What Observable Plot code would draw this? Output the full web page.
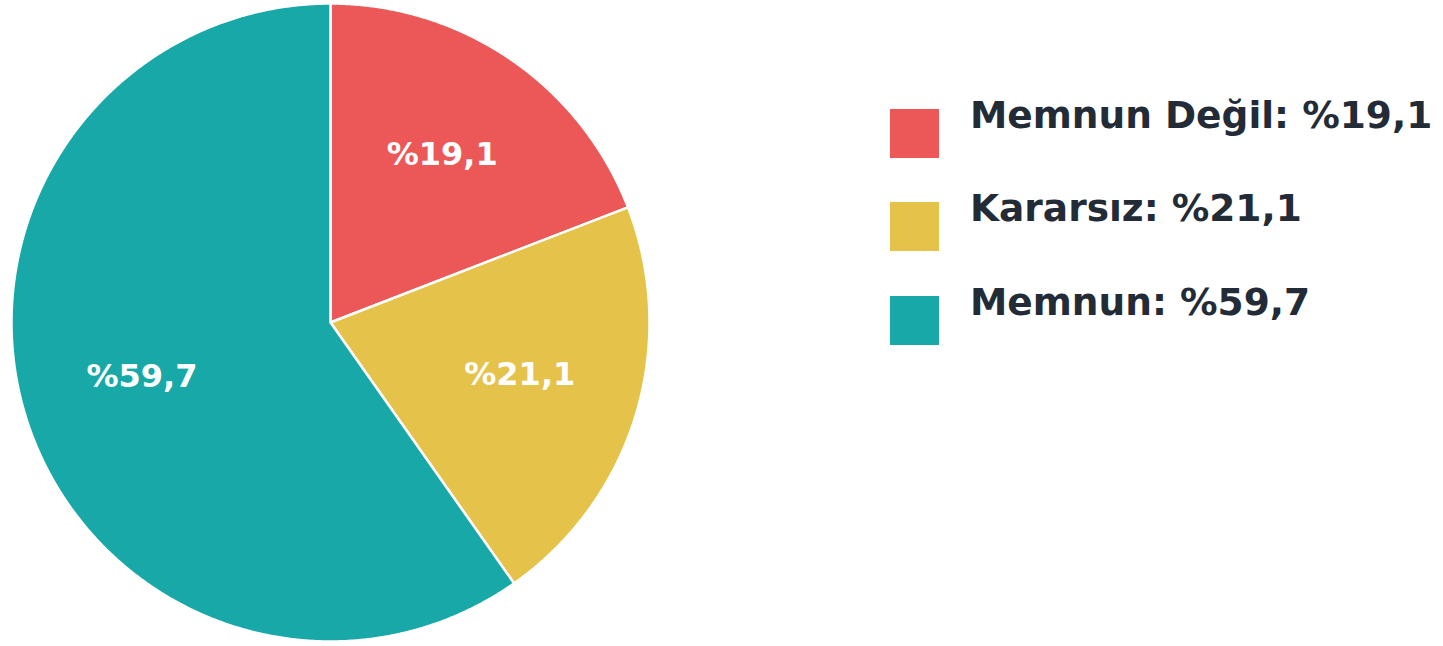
<!DOCTYPE html>
<html>
<head>
<meta charset="utf-8">
<script src="https://cdn.jsdelivr.net/npm/d3@7"></script>
<script src="https://cdn.jsdelivr.net/npm/@observablehq/plot@0.6"></script>
<style>
  html, body { margin: 0; padding: 0; background: #fff; }
  #wrap { position: relative; width: 1443px; height: 646px; font-family: "DejaVu Sans", sans-serif; }
  #legend { position: absolute; left: 0; top: 0; }
  .row { position: absolute; left: 890px; display: block; }
  .sw { position: absolute; left: 0; width: 49px; height: 49px; }
  .lbl { position: absolute; left: 80px; white-space: nowrap; font-size: 37.5px; font-weight: bold; color: #222b36; line-height: 43px; }
</style>
</head>
<body>
<div id="wrap"></div>
<script>
const categories = ["Memnun Değil", "Kararsız", "Memnun"];
const values = [19.1, 21.1, 59.7];
const labels = ["%19,1", "%21,1", "%59,7"];
const colors = ["#ec5858", "#e5c34b", "#18a8a8"];

const pie = d3.pie().sort(null).value(d => d.value).startAngle(0).endAngle(2 * Math.PI);
const rows = categories.map((c, i) => ({key: c, value: values[i], label: labels[i]}));
const arcs = pie(rows);

// polygon points for each slice, in unit-circle coordinates (y up, clockwise from top)
const poly = [];
arcs.forEach(a => {
  poly.push({key: a.data.key, x: 0, y: 0});
  const n = Math.max(2, Math.ceil((a.endAngle - a.startAngle) / 0.005));
  for (let k = 0; k <= n; k++) {
    const t = a.startAngle + (a.endAngle - a.startAngle) * k / n;
    poly.push({key: a.data.key, x: Math.sin(t), y: Math.cos(t)});
  }
});
const labelPts = arcs.map(a => {
  const t = (a.startAngle + a.endAngle) / 2;
  return {key: a.data.key, label: a.data.label, x: 0.62 * Math.sin(t), y: 0.62 * Math.cos(t)};
});

const chart = Plot.plot({
  width: 1443,
  height: 646,
  margin: 0,
  style: {background: "white", fontFamily: "DejaVu Sans, sans-serif", overflow: "visible"},
  x: {domain: [-1, 1], range: [11, 649], axis: null},
  y: {domain: [-1, 1], range: [641, 3], axis: null},
  color: {domain: categories, range: colors},
  marks: [
    Plot.line(poly, {x: "x", y: "y", z: "key", fill: "key", stroke: "white", strokeWidth: 2.5, curve: "linear-closed", strokeLinejoin: "round"}),
    Plot.text(labelPts, {x: "x", y: "y", text: "label", dy: -5, fill: "white", fontSize: 32, fontWeight: "bold", fontFamily: "DejaVu Sans"})
  ]
});

const wrap = document.getElementById("wrap");
wrap.appendChild(chart);

const legend = document.createElement("div");
legend.id = "legend";
const swatchTops = [109, 202, 296];
categories.forEach((c, i) => {
  const row = document.createElement("div");
  row.className = "row";
  row.style.top = swatchTops[i] + "px";
  const sw = document.createElement("div");
  sw.className = "sw";
  sw.style.background = colors[i];
  const lb = document.createElement("div");
  lb.className = "lbl";
  lb.style.top = "-15px";
  lb.textContent = c + ": " + labels[i];
  row.appendChild(sw);
  row.appendChild(lb);
  legend.appendChild(row);
});
wrap.appendChild(legend);
</script>
</body>
</html>
